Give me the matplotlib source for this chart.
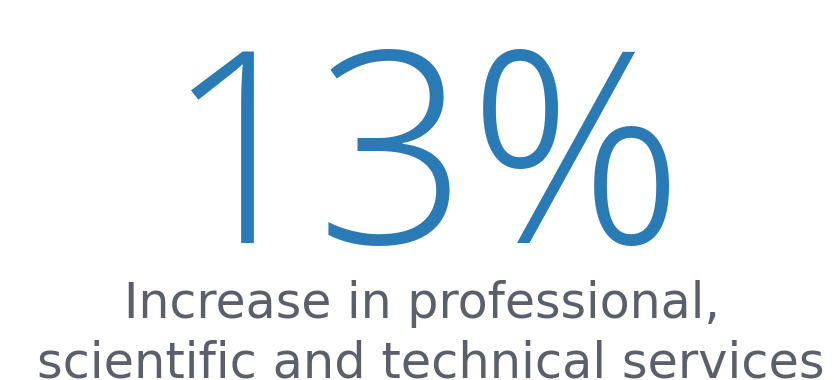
import matplotlib
matplotlib.use("Agg")
import matplotlib.pyplot as plt

# text content
BIG_VALUE = "13%"
CAPTION_LINES = ["Increase in professional,", "scientific and technical services"]

BLUE = "#2a7bb5"
GRAY = "#5b5f6a"
W, H = 834, 380

# (left px, right px, baseline px) of each text box; glyph side bearings eat some width
big_box = (164, 684, 243)
line_boxes = [(124, 720, 318), (36, 825, 377)]

fig = plt.figure(figsize=(W / 100, H / 100), dpi=100)
fig.patch.set_facecolor("white")
renderer = fig.canvas.get_renderer()


def fit_text(s, box, color, family, weight, start_size):
    left, right, base = box
    t = fig.text((left + right) / 2 / W, 1 - base / H, s, ha="center",
                 va="baseline", fontsize=start_size, color=color,
                 family=family, fontweight=weight)
    # scale size so the text spans the same width as in the reference
    for _ in range(3):
        w = t.get_window_extent(renderer).width
        t.set_fontsize(t.get_fontsize() * (right - left) / w)
    return t


fit_text(BIG_VALUE, big_box, BLUE, "Open Sans", "light", 190)
for s, box in zip(CAPTION_LINES, line_boxes):
    fit_text(s, box, GRAY, "DejaVu Sans", "normal", 33)

fig.savefig("out.png", dpi=100, facecolor="white")
